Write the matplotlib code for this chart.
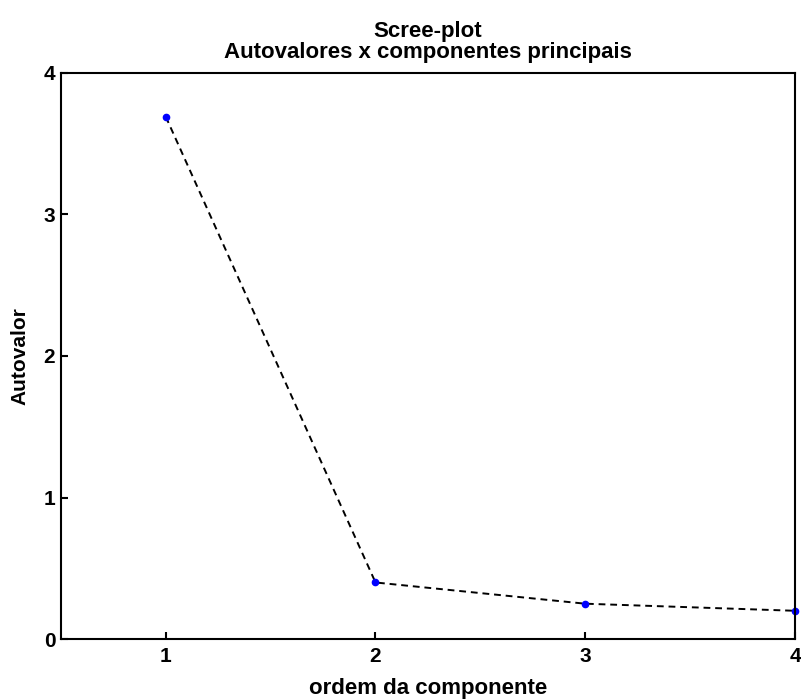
import numpy as np
import matplotlib.pyplot as plt

plt.rcParams['font.family'] = ['Liberation Sans', 'DejaVu Sans']
plt.rcParams['font.weight'] = 'bold'

# autovalores
componentes = [1, 2, 3, 4]
autovalores = [3.69, 0.40, 0.25, 0.20]

fig = plt.figure(figsize=(8.01, 7.0), dpi=100)
ax = fig.add_axes([0.076, 0.087, 0.9165, 0.809])

ax.plot(componentes, autovalores, 'k--', lw=1.4, dashes=(3.5, 2.5))
ax.plot(componentes, autovalores, 'o', color='#0000ff', ms=4.5, clip_on=False)

ax.set_xlim(0.5, 4)
ax.set_ylim(0, 4)
ax.set_xticks(componentes)
ax.set_yticks([0, 1, 2, 3, 4])
ax.tick_params(direction='in', length=5, width=1.5, labelsize=15)
ax.tick_params(axis='x', pad=6)
ax.tick_params(axis='y', pad=4)
for s in ax.spines.values():
    s.set_linewidth(1.5)

ax.set_title('Scree-plot\nAutovalores x componentes principais',
             fontsize=16, fontweight='bold', pad=11, linespacing=1.0)
ax.set_xlabel('ordem da componente', fontsize=16, fontweight='bold', labelpad=8)
ax.set_ylabel('Autovalor', fontsize=15, fontweight='bold', labelpad=10)

fig.savefig('out.png', dpi=100)
